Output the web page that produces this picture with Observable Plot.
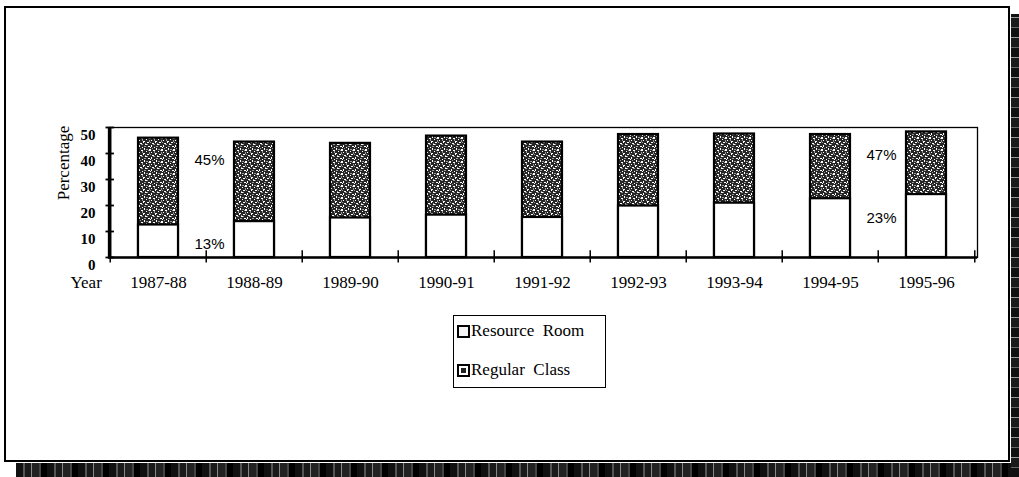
<!DOCTYPE html>
<html>
<head>
<meta charset="utf-8">
<script src="https://cdn.jsdelivr.net/npm/d3@7"></script>
<script src="https://cdn.jsdelivr.net/npm/@observablehq/plot@0.6"></script>
<style>
  html, body { margin: 0; padding: 0; background: #fff; }
  body { width: 1019px; height: 477px; overflow: hidden; position: relative; }
  #border { position: absolute; left: 4px; top: 6px; width: 1006px; height: 456px; border: 2px solid #000; box-sizing: border-box; }
  #chart { position: absolute; left: 0; top: 0; }
  #shadowB { position: absolute; left: 16px; top: 463px; width: 1003px; height: 14px;
    background: repeating-linear-gradient(90deg, #111 0 7px, #555 7px 9px, #1a1a1a 9px 15px, #888 15px 16px, #222 16px 23px, #444 23px 25px, #000 25px 31px); }
  #shadowR { position: absolute; left: 1011px; top: 14px; width: 8px; height: 463px;
    background: repeating-linear-gradient(0deg, #111 0 9px, #666 9px 10px, #1a1a1a 10px 19px, #999 19px 20px); }
  #legend { position: absolute; left: 453px; top: 315px; width: 153px; height: 73px; border: 1.5px solid #000; box-sizing: border-box;
    font-family: "Liberation Serif", "Times New Roman", serif; font-size: 17px; color: #000; }
  .item { position: absolute; left: 3px; display: flex; align-items: center; white-space: pre; }
  .sw { width: 9px; height: 9px; border: 2px solid #000; margin-right: 1px; box-sizing: content-box; }
</style>
</head>
<body>
<div id="border"></div>
<div id="shadowB"></div>
<div id="shadowR"></div>
<div id="chart"></div>
<div id="legend">
  <div class="item" style="top:5px"><span class="sw" style="background:#f4f4f4"></span>Resource  Room</div>
  <div class="item" style="top:44px"><span class="sw" style="background:#222;box-shadow: inset 0 0 0 2px #fff"></span>Regular  Class</div>
</div>
<script>
// ---- data ----
const years = ["1987-88", "1988-89", "1989-90", "1990-91", "1991-92", "1992-93", "1993-94", "1994-95", "1995-96"];
const resourceRoom = [12.5, 13.8, 15.2, 16.3, 15.4, 19.8, 20.9, 22.6, 24.2];
const regularClass = [45.9, 44.4, 43.9, 46.7, 44.4, 47.3, 47.5, 47.3, 48.3];
const yTicks = [0, 10, 20, 30, 40, 50];
const noteYears = ["1987-88", "1987-88", "1994-95", "1994-95"];
const noteValues = [45, 13, 47, 23];

const rows = years.map((year, i) => ({year, resource: resourceRoom[i], regular: regularClass[i]}));
const notes = noteYears.map((year, i) => ({year, value: noteValues[i]}));

const W = 1019, H = 477, mL = 108, mR = 42, mT = 127, mB = 220;
const step = (W - mL - mR) / years.length;
const serif = "'Liberation Serif', 'Times New Roman', serif";
const sans = "'Liberation Sans', Arial, sans-serif";
const tickLen = 9;
const bandW = step * (1 - 0.58);

const plot = Plot.plot({
  width: W, height: H,
  marginLeft: mL, marginRight: mR, marginTop: mT, marginBottom: mB,
  style: {background: "transparent", fontFamily: serif, color: "#000", overflow: "visible"},
  x: {domain: years, paddingInner: 0.58, paddingOuter: 0.29, axis: null},
  y: {domain: [0, 50], axis: null},
  marks: [
    Plot.frame({stroke: "#000", strokeWidth: 1.3}),
    Plot.barY(rows, {x: "year", y: "regular", fill: "url(#stipple)", stroke: "#000", strokeWidth: 2.2}),
    Plot.barY(rows, {x: "year", y: "resource", fill: "#fff", stroke: "#000", strokeWidth: 2.2}),
    Plot.ruleY([0], {stroke: "#000", strokeWidth: 2.5}),
    Plot.ruleX([years[0]], {x: d => d, y1: 0, y2: 50, dx: -step / 2, stroke: "#000", strokeWidth: 2.5}),
    Plot.ruleX(years, {x: d => d, y1: -2.1, y2: 2.6, dx: -step / 2, stroke: "#000", strokeWidth: 1.5}),
    Plot.ruleX([years[years.length - 1]], {x: d => d, y1: -2.1, y2: 2.6, dx: step / 2, stroke: "#000", strokeWidth: 1.5}),
    Plot.tickY(yTicks, {y: d => d, x: () => years[0], dx: -step / 2, insetLeft: (bandW - tickLen) / 2, insetRight: (bandW - tickLen) / 2, stroke: "#000", strokeWidth: 1.8}),
    Plot.text(yTicks, {y: d => d, text: d => String(d), frameAnchor: "left", dx: -13, dy: 8, textAnchor: "end", fontSize: 15, fontWeight: "bold", fontFamily: serif}),
    Plot.text(years, {x: d => d, text: d => d, frameAnchor: "bottom", dy: 30, fontSize: 17, fontFamily: serif}),
    Plot.text(["Year"], {text: d => d, frameAnchor: "bottom-left", dx: -38, dy: 30, fontSize: 17, fontFamily: serif}),
    Plot.text(["Percentage"], {text: d => d, y: () => 22, frameAnchor: "left", dx: -45, rotate: -90, fontSize: 17, fontFamily: serif}),
    Plot.text(notes, {x: "year", y: "value", text: d => d.value + "%", dx: 51, dy: 20, fontSize: 15, fontFamily: sans})
  ]
});

// scanned-stipple texture for the Regular Class bars (fixed tile)
const defs = d3.select(plot).insert("defs", ":first-child");
const pat = defs.append("pattern").attr("id", "stipple").attr("width", 12).attr("height", 12).attr("patternUnits", "userSpaceOnUse");
pat.append("rect").attr("width", 12).attr("height", 12).attr("fill", "#262626");
[[1,0,2,1],[7,1,1,2],[4,2,2,1],[10,3,1,1],[0,4,1,2],[5,5,2,2],[9,6,2,1],[2,7,1,1],[7,8,1,1],[11,9,1,2],[3,10,2,1],[8,11,2,1],[0,9,1,1],[6,3,1,1]].forEach(([x, y, w, h]) =>
  pat.append("rect").attr("x", x).attr("y", y).attr("width", w).attr("height", h).attr("fill", "#fff"));
[[3,0,1,1],[9,0,2,1],[0,2,2,1],[8,4,1,1],[2,5,2,1],[10,7,1,2],[5,8,1,2],[1,11,1,1],[6,10,1,1],[4,6,1,1]].forEach(([x, y, w, h]) =>
  pat.append("rect").attr("x", x).attr("y", y).attr("width", w).attr("height", h).attr("fill", "#9a9a9a"));

document.getElementById("chart").appendChild(plot);
</script>
</body>
</html>
